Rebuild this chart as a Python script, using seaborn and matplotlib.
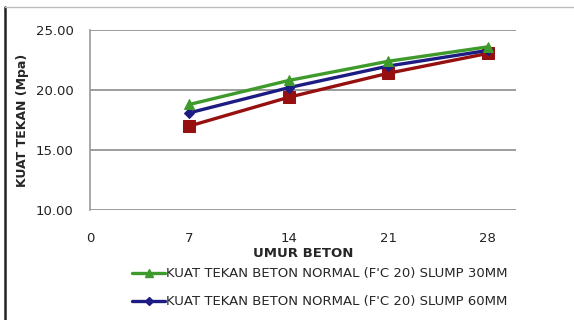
import matplotlib
matplotlib.use("Agg")
import matplotlib.pyplot as plt
import matplotlib.lines as mlines
import seaborn as sns
import pandas as pd

# Concrete age (days) and compressive strength (MPa) per slump
umur = [7, 14, 21, 28]
slump_30 = [18.8, 20.8, 22.4, 23.6]
slump_60 = [18.1, 20.2, 22.0, 23.3]
slump_90 = [17.0, 19.4, 21.4, 23.05]

label_30 = "KUAT TEKAN BETON NORMAL (F'C 20) SLUMP 30MM"
label_60 = "KUAT TEKAN BETON NORMAL (F'C 20) SLUMP 60MM"
label_90 = "KUAT TEKAN BETON NORMAL (F'C 20) SLUMP 90MM"

x_ticks = [0, 7, 14, 21, 28]
y_ticks = [10, 15, 20, 25]

sns.set_theme(style="white")
plt.rcParams["font.family"] = ["DejaVu Sans"]

df = pd.DataFrame({
    "umur": umur * 3,
    "kuat": slump_30 + slump_60 + slump_90,
    "seri": [label_30] * 4 + [label_60] * 4 + [label_90] * 4,
})

colors = {label_30: "#3f9a2c", label_60: "#1c1c82", label_90: "#961010"}
markers = {label_30: "^", label_60: "D", label_90: "s"}
msizes = {label_30: 7, label_60: 5, label_90: 8}

fig = plt.figure(figsize=(5.74, 3.2), dpi=100)
ax = fig.add_axes([0.157, 0.344, 0.742, 0.562])

for seri in [label_90, label_60, label_30]:
    sub = df[df["seri"] == seri]
    sns.lineplot(data=sub, x="umur", y="kuat", ax=ax, color=colors[seri],
                 marker=markers[seri], markersize=msizes[seri],
                 markeredgecolor=colors[seri], linewidth=2.4, legend=False)

ax.set_xlim(0, 30)
ax.set_ylim(10, 25)
ax.set_xticks(x_ticks)
ax.set_xticklabels([str(t) for t in x_ticks])
ax.set_yticks(y_ticks)
ax.set_yticklabels([f"{t:.2f}" for t in y_ticks])
ax.tick_params(axis="both", length=0, labelsize=9.5, colors="#222222")
ax.tick_params(axis="x", pad=16)
ax.tick_params(axis="y", pad=12)

ax.grid(axis="y", color="#8c8c8c", linewidth=1.2)
ax.grid(axis="x", visible=False)
for side in ["top", "right", "bottom"]:
    ax.spines[side].set_visible(False)
ax.spines["left"].set_color("#9a9a9a")
ax.spines["left"].set_linewidth(1.2)

ax.set_xlabel("UMUR BETON", fontsize=9.5, fontweight="bold", labelpad=1)
ax.set_ylabel("KUAT TEKAN (Mpa)", fontsize=9, fontweight="bold", labelpad=5)

handles = [
    mlines.Line2D([], [], color=colors[label_30], marker="^", markersize=6,
                  linewidth=2.4, label=label_30),
    mlines.Line2D([], [], color=colors[label_60], marker="D", markersize=4,
                  linewidth=2.4, label=label_60),
]
fig.legend(handles=handles, loc="upper left", bbox_to_anchor=(0.23, 0.165),
           frameon=False, fontsize=9.5, handlelength=2.5, handletextpad=0.1,
           labelspacing=1.15, borderaxespad=0, borderpad=0)

# Chart frame edges
fig.add_artist(mlines.Line2D([0.009, 0.009], [0, 0.978], color="#222222",
                             linewidth=1.8, transform=fig.transFigure))
fig.add_artist(mlines.Line2D([0.009, 1.0], [0.978, 0.978], color="#bdbdbd",
                             linewidth=1.0, transform=fig.transFigure))

fig.savefig("out.png", dpi=100)
